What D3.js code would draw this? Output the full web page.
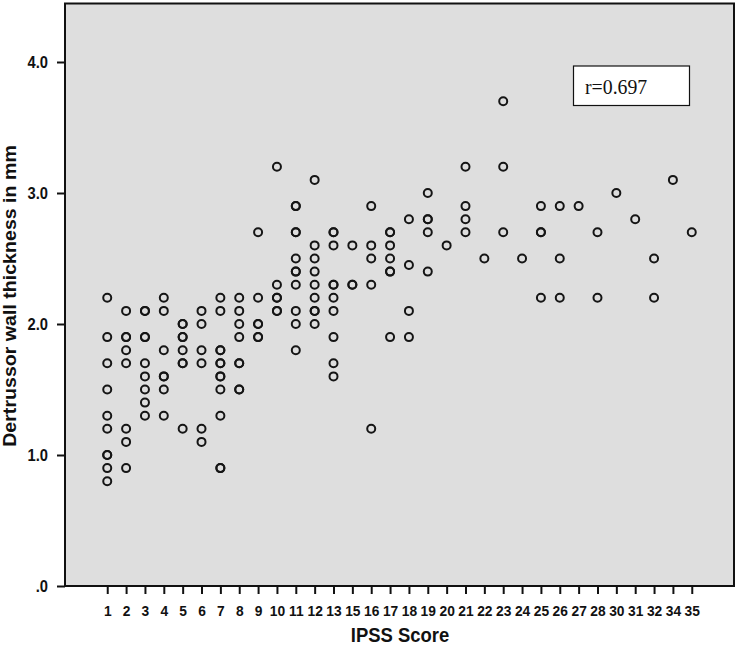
<!DOCTYPE html>
<html>
<head>
<meta charset="utf-8">
<script src="https://cdn.jsdelivr.net/npm/d3@7"></script>
<style>
  html, body { margin: 0; padding: 0; background: #ffffff; }
  svg { display: block; }
</style>
</head>
<body>
<script>
// ---- data ----
const ipssCategories = [1,2,3,4,5,6,7,8,9,10,11,12,13,15,16,17,18,19,20,21,22,23,24,25,26,27,28,30,31,32,34,35];
const yTicks = [0, 1, 2, 3, 4];
const yTickLabels = [".0", "1.0", "2.0", "3.0", "4.0"];
const rLabel = "r=0.697";
const xTitle = "IPSS Score";
const yTitle = "Dertrussor wall thickness in mm";

// points: IPSS score and detrusor wall thickness (duplicates = overlapping cases)
const ipss = [
  1,1,1,1,1,1,1,1,1,1,
  2,2,2,2,2,2,2,2,
  3,3,3,3,3,3,3,3,3,
  4,4,4,4,4,4,4,
  5,5,5,5,5,5,5,5,
  6,6,6,6,6,6,
  7,7,7,7,7,7,7,7,7,7,7,7,
  8,8,8,8,8,8,8,8,
  9,9,9,9,9,9,
  10,10,10,10,10,10,
  11,11,11,11,11,11,11,11,11,11,11,
  12,12,12,12,12,12,12,12,12,
  13,13,13,13,13,13,13,13,13,13,
  15,15,15,
  16,16,16,16,16,
  17,17,17,17,17,17,17,
  18,18,18,18,
  19,19,19,19,19,
  20,
  21,21,21,21,
  22,
  23,23,23,
  24,
  25,25,25,25,
  26,26,26,
  27,
  28,28,
  30,
  31,
  32,32,
  34,
  35
];
const thickness = [
  2.2,1.9,1.7,1.5,1.3,1.2,1.0,1.0,0.9,0.8,
  2.1,1.9,1.9,1.8,1.7,1.2,1.1,0.9,
  2.1,2.1,1.9,1.9,1.7,1.6,1.5,1.4,1.3,
  2.2,2.1,1.8,1.6,1.6,1.5,1.3,
  2.0,2.0,1.9,1.9,1.8,1.7,1.7,1.2,
  2.1,2.0,1.8,1.7,1.2,1.1,
  2.2,2.1,1.8,1.8,1.7,1.7,1.6,1.6,1.5,1.3,0.9,0.9,
  2.2,2.1,2.0,1.9,1.7,1.7,1.5,1.5,
  2.7,2.2,2.0,2.0,1.9,1.9,
  3.2,2.3,2.2,2.2,2.1,2.1,
  2.9,2.9,2.7,2.7,2.5,2.4,2.4,2.3,2.1,2.0,1.8,
  3.1,2.6,2.5,2.4,2.3,2.2,2.1,2.1,2.0,
  2.7,2.7,2.6,2.3,2.3,2.2,2.1,1.9,1.7,1.6,
  2.6,2.3,2.3,
  2.9,2.6,2.5,2.3,1.2,
  2.7,2.7,2.6,2.5,2.4,2.4,1.9,
  2.8,2.45,2.1,1.9,
  3.0,2.8,2.8,2.7,2.4,
  2.6,
  3.2,2.9,2.8,2.7,
  2.5,
  3.7,3.2,2.7,
  2.5,
  2.9,2.7,2.7,2.2,
  2.9,2.5,2.2,
  2.9,
  2.7,2.2,
  3.0,
  2.8,
  2.5,2.2,
  3.1,
  2.7
];

// ---- layout ----
const W = 738, H = 649;
const plot = { left: 65, top: 3.5, right: 734, bottom: 586 };
const SQ = 0.92; // horizontal squish of text seen in the reference

const svg = d3.select("body").append("svg")
  .attr("width", W).attr("height", H)
  .attr("viewBox", `0 0 ${W} ${H}`);

const x = d3.scalePoint()
  .domain(ipssCategories)
  .range([plot.left, plot.right])
  .padding(2.24);

const y = d3.scaleLinear()
  .domain([0, (plot.bottom - plot.top) / 131])
  .range([plot.bottom, plot.top]);

// plot background
svg.append("rect")
  .attr("x", plot.left).attr("y", plot.top)
  .attr("width", plot.right - plot.left)
  .attr("height", plot.bottom - plot.top)
  .attr("fill", "#dedede");

// points
svg.append("g").selectAll("circle")
  .data(ipss.map((d, i) => ({ s: d, t: thickness[i] })))
  .join("circle")
  .attr("cx", d => x(d.s))
  .attr("cy", d => y(d.t))
  .attr("r", 4)
  .attr("fill", "none")
  .attr("stroke", "#151515")
  .attr("stroke-width", 2);

// border
svg.append("rect")
  .attr("x", plot.left).attr("y", plot.top)
  .attr("width", plot.right - plot.left)
  .attr("height", plot.bottom - plot.top)
  .attr("fill", "none")
  .attr("stroke", "#111")
  .attr("stroke-width", 2);

// x axis
const xAxis = svg.append("g")
  .attr("transform", `translate(0,${plot.bottom})`)
  .call(d3.axisBottom(x).tickSize(8).tickSizeOuter(0));
xAxis.select(".domain").remove();
xAxis.selectAll(".tick line").attr("stroke", "#111").attr("stroke-width", 2);
xAxis.selectAll(".tick text")
  .attr("y", 0).attr("dy", null)
  .attr("transform", `translate(0,30) scale(${SQ},1)`)
  .attr("fill", "#111")
  .style("font-family", "'Liberation Sans', Arial, sans-serif")
  .style("font-weight", "bold")
  .style("font-size", "15px");

// y axis
const yAxis = svg.append("g")
  .attr("transform", `translate(${plot.left},0)`)
  .call(d3.axisLeft(y).tickValues(yTicks)
    .tickFormat((d, i) => yTickLabels[i])
    .tickSize(8).tickSizeOuter(0));
yAxis.select(".domain").remove();
yAxis.selectAll(".tick line").attr("stroke", "#111").attr("stroke-width", 2);
yAxis.selectAll(".tick text")
  .attr("x", -18.5)
  .attr("dy", "0.36em")
  .attr("transform", `scale(${SQ},1)`)
  .attr("fill", "#111")
  .style("font-family", "'Liberation Sans', Arial, sans-serif")
  .style("font-weight", "bold")
  .style("font-size", "16px");

// axis titles
svg.append("text")
  .attr("transform", `translate(400,641.7) scale(0.9,1)`)
  .attr("text-anchor", "middle")
  .attr("fill", "#111")
  .style("font-family", "'Liberation Sans', Arial, sans-serif")
  .style("font-weight", "bold")
  .style("font-size", "20.5px")
  .text(xTitle);

svg.append("text")
  .attr("transform", `translate(16,296) scale(0.95,1) rotate(-90)`)
  .attr("text-anchor", "middle")
  .attr("fill", "#111")
  .style("font-family", "'Liberation Sans', Arial, sans-serif")
  .style("font-weight", "bold")
  .style("font-size", "19.6px")
  .text(yTitle);

// r annotation box
svg.append("rect")
  .attr("x", 573.5).attr("y", 66)
  .attr("width", 116).attr("height", 39.5)
  .attr("fill", "#ffffff")
  .attr("stroke", "#111")
  .attr("stroke-width", 1.2);
svg.append("text")
  .attr("transform", `translate(585,94) scale(0.9,1)`)
  .attr("fill", "#111")
  .style("font-family", "'Liberation Serif', 'Times New Roman', serif")
  .style("font-size", "22px")
  .text(rLabel);
</script>
</body>
</html>
